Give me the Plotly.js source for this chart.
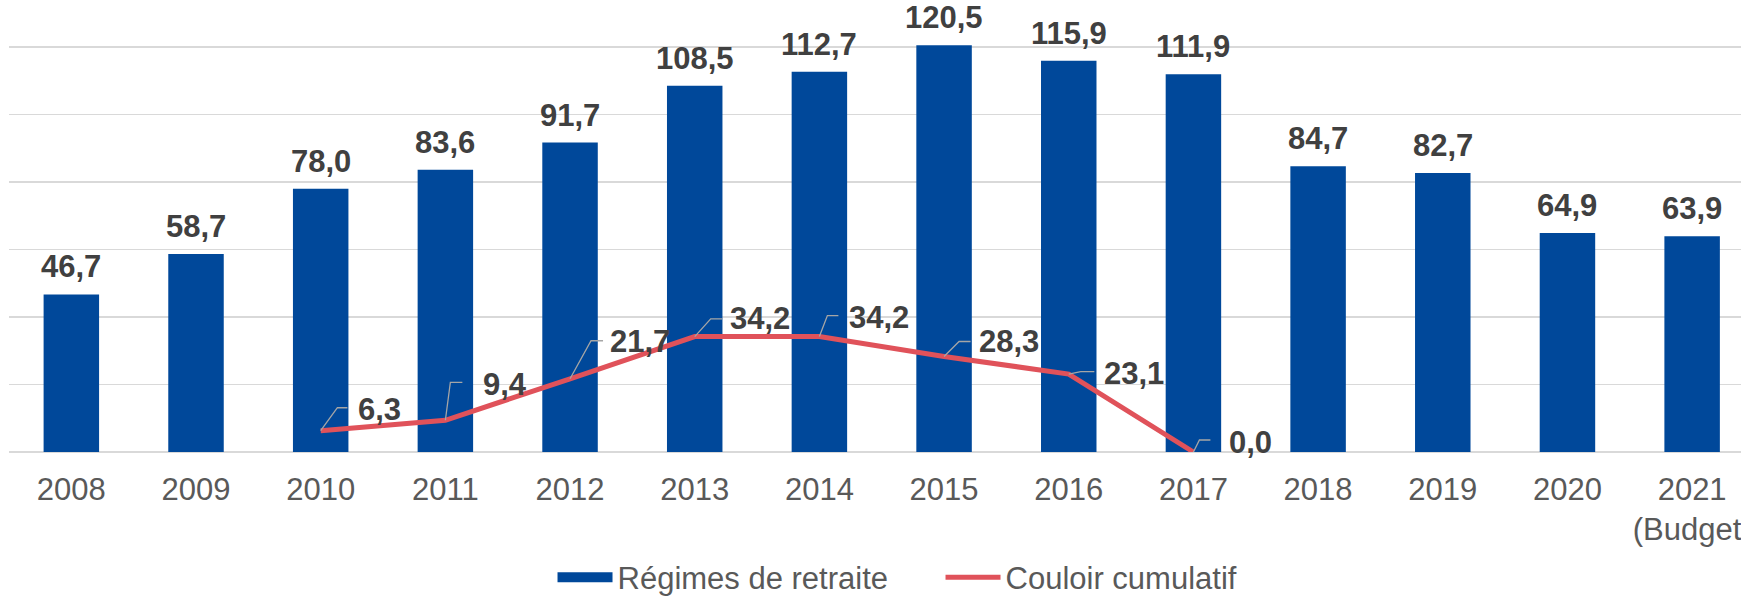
<!DOCTYPE html>
<html>
<head>
<meta charset="utf-8">
<script src="https://cdn.plot.ly/plotly-3.0.1.min.js"></script>
<style>html,body{margin:0;padding:0;background:#fff;}#chart{width:1741px;height:597px;}</style>
</head>
<body>
<div id="chart"></div>
<script>
// ---- data ----
const categories = ['2008','2009','2010','2011','2012','2013','2014','2015','2016','2017','2018','2019','2020','2021<br>(Budget)'];
const regimes = [46.7, 58.7, 78.0, 83.6, 91.7, 108.5, 112.7, 120.5, 115.9, 111.9, 84.7, 82.7, 64.9, 63.9];
const couloir = [null, null, 6.3, 9.4, 21.7, 34.2, 34.2, 28.3, 23.1, 0.0, null, null, null, null];
const seriesNames = ['Régimes de retraite', 'Couloir cumulatif'];

// ---- style (pixel offsets of line labels and leader lines) ----
const leadElbowX = [null, null, 16.7, 5, 21, 16, 8, 15, 12, 6, null, null, null, null];
const leadY      = [null, null, 23, 38, 38, 17.7, 21, 15, 2.5, 12, null, null, null, null];
const leadEndX   = [null, null, 26.7, 17, 33, 27.5, 19, 26.5, 25.6, 17, null, null, null, null];
const textDx     = [null, null, 36, 37, 38.5, 34, 28.5, 33.5, 34, 35, null, null, null, null];
const textDy     = [null, null, 21.7, 35.6, 37.3, 17.6, 18.6, 14.5, 1, 10, null, null, null, null];

const BLUE = '#00489a', RED = '#e0525a', LABEL = '#404040', TICK = '#595959', GRID = '#d9d9d9';
const FONT = '"Liberation Sans", Arial, sans-serif';
const FS = 31;
const fmt = v => v.toFixed(1).replace('.', ',');

const traces = [
  {
    type: 'bar', name: seriesNames[0], x: categories, y: regimes,
    marker: {color: BLUE}, showlegend: false, legendgroup: 'reg', hoverinfo: 'x+y'
  },
  { // legend swatch for the bar series (wide rectangle like the original)
    type: 'scatter', mode: 'lines', name: seriesNames[0], x: [null], y: [null],
    line: {color: BLUE, width: 15}, legendgroup: 'reg', legendwidth: 318, hoverinfo: 'skip'
  },
  {
    type: 'scatter', mode: 'lines', name: seriesNames[1], x: categories, y: couloir,
    line: {color: RED, width: 5}, connectgaps: false, legendgroup: 'cou'
  }
];

const annotations = [];
const shapes = [];
regimes.forEach((v, i) => {
  annotations.push({
    x: i, y: v, xref: 'x', yref: 'y', text: fmt(v), showarrow: false,
    xanchor: 'center', yanchor: 'bottom', yshift: 9, borderpad: 0,
    font: {family: FONT, size: FS, color: LABEL, weight: 'bold'}
  });
});
couloir.forEach((v, i) => {
  if (v === null) return;
  annotations.push({
    x: i, y: v, xref: 'x', yref: 'y', text: fmt(v), showarrow: false,
    xanchor: 'left', yanchor: 'middle', xshift: textDx[i], yshift: textDy[i], borderpad: 0,
    font: {family: FONT, size: FS, color: LABEL, weight: 'bold'}
  });
  shapes.push({
    type: 'path', xref: 'x', yref: 'y', xsizemode: 'pixel', ysizemode: 'pixel',
    xanchor: i, yanchor: v,
    path: 'M0,0 L' + leadElbowX[i] + ',' + leadY[i] + ' L' + leadEndX[i] + ',' + leadY[i],
    line: {color: '#a6a6a6', width: 1.3}
  });
});

const layout = {
  width: 1741, height: 597,
  margin: {l: 9, r: 0, t: 0, b: 145, pad: 0, autoexpand: false},
  paper_bgcolor: '#fff', plot_bgcolor: '#fff',
  font: {family: FONT, color: TICK},
  bargap: 0.555,
  showlegend: true,
  xaxis: {
    type: 'category', range: [-0.5, 13.392], showgrid: false, zeroline: false, showline: false,
    ticks: '', ticklabelstandoff: 16, ticklabeloverflow: 'allow',
    tickfont: {family: FONT, size: FS, color: TICK}, automargin: false, fixedrange: true
  },
  yaxis: {
    range: [0, 133.93], tick0: 0, dtick: 20, showticklabels: false, ticks: '',
    showgrid: true, gridcolor: GRID, gridwidth: 1.5,
    zeroline: true, zerolinecolor: GRID, zerolinewidth: 2,
    showline: false, automargin: false, fixedrange: true
  },
  legend: {
    orientation: 'h', x: 0.513, xanchor: 'center', y: -0.278, yanchor: 'middle',
    font: {family: FONT, size: FS, color: TICK}, itemwidth: 55, traceorder: 'normal',
    bgcolor: 'rgba(0,0,0,0)'
  },
  annotations: annotations,
  shapes: shapes
};

Plotly.newPlot('chart', traces, layout, {displayModeBar: false, staticPlot: true});
</script>
</body>
</html>
